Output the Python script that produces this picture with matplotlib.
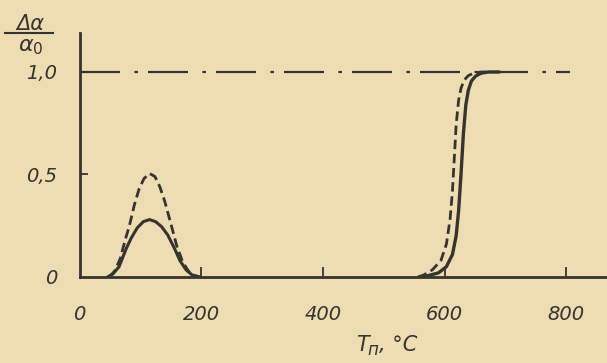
import matplotlib
matplotlib.use("Agg")
import matplotlib.pyplot as plt

# Data (T in °C, y = Δα/α0)
bump_solid_x = [46, 55, 65, 77, 85, 95, 105, 115, 125, 135, 145, 156, 165, 175, 185, 198]
bump_solid_y = [0.0, 0.015, 0.05, 0.14, 0.19, 0.24, 0.27, 0.28, 0.27, 0.245, 0.205, 0.14, 0.08, 0.035, 0.01, 0.0]

bump_dash_x = [49, 58, 67, 75, 82, 90, 98, 106, 115, 124, 132, 140, 151, 160, 170, 180, 190, 197]
bump_dash_y = [0.0, 0.03, 0.09, 0.18, 0.25, 0.35, 0.43, 0.48, 0.505, 0.49, 0.44, 0.37, 0.25, 0.15, 0.07, 0.025, 0.005, 0.0]

rise_solid_x = [565, 575, 590, 603, 613, 619, 623, 627, 631, 635, 639, 644, 651, 660, 672, 690]
rise_solid_y = [0.0, 0.008, 0.02, 0.05, 0.11, 0.2, 0.32, 0.5, 0.7, 0.84, 0.91, 0.955, 0.98, 0.994, 1.0, 1.0]

rise_dash_x = [556, 566, 580, 594, 603, 609, 613, 616, 619, 623, 627, 632, 639, 648, 660, 675]
rise_dash_y = [0.0, 0.01, 0.035, 0.08, 0.16, 0.28, 0.42, 0.58, 0.74, 0.86, 0.92, 0.96, 0.982, 0.995, 1.0, 1.0]

ref_x = [0, 807]
ref_y = [1.0, 1.0]

xticks = [0, 200, 400, 600, 800]
xtick_labels = ["0", "200", "400", "600", "800"]
yticks = [0, 0.5, 1.0]
ytick_labels = ["0", "0,5", "1,0"]

bg = "#eedcb3"
ink = "#36342e"

fig = plt.figure(figsize=(6.07, 3.63), dpi=100)
fig.patch.set_facecolor(bg)
ax = fig.add_axes([0.131, 0.237, 0.869, 0.672])
ax.set_facecolor(bg)

ax.plot(bump_solid_x, bump_solid_y, color=ink, lw=2.2, solid_capstyle="round")
ax.plot(bump_dash_x, bump_dash_y, color=ink, lw=2.0, dashes=(3.4, 1.7))
ax.plot(rise_solid_x, rise_solid_y, color=ink, lw=2.4, solid_capstyle="round")
ax.plot(rise_dash_x, rise_dash_y, color=ink, lw=2.0, dashes=(3.4, 1.7))
ax.plot(ref_x, ref_y, color=ink, lw=1.6, dashes=(18, 6.5, 1.6, 4.5))

ax.set_xlim(0, 867)
ax.set_ylim(0, 1.19)

for s in ["top", "right"]:
    ax.spines[s].set_visible(False)
for s in ["left", "bottom"]:
    ax.spines[s].set_color(ink)
    ax.spines[s].set_linewidth(2.0)

ax.set_xticks(xticks)
ax.set_xticklabels(xtick_labels)
ax.set_yticks(yticks)
ax.set_yticklabels(ytick_labels)
ax.tick_params(axis="x", direction="in", length=7, width=1.3, color=ink, pad=20,
               labelsize=14, labelcolor=ink)
ax.tick_params(axis="y", direction="in", length=6, width=1.3, color=ink, pad=16,
               labelsize=14, labelcolor=ink)
for lab in ax.get_xticklabels() + ax.get_yticklabels():
    lab.set_fontstyle("italic")
    lab.set_family("DejaVu Sans")
ax.xaxis.get_major_ticks()[0].tick1line.set_visible(False)
ax.yaxis.get_major_ticks()[0].tick1line.set_visible(False)

# Y-axis label as fraction
fig.text(0.050, 0.917, "Δα", ha="center", va="baseline", fontsize=15, style="italic", color=ink)
fig.text(0.050, 0.897, "α$_0$", ha="center", va="top", fontsize=16, style="italic", color=ink)
fig.add_artist(plt.Line2D([0.008, 0.088], [0.909, 0.909], color=ink, lw=1.5))

# X-axis label
fig.text(0.5865, 0.034, "T", ha="left", va="baseline", fontsize=15, style="italic", color=ink)
fig.text(0.606, 0.022, "п", ha="left", va="baseline", fontsize=12, style="italic", color=ink)
fig.text(0.624, 0.034, ", °C", ha="left", va="baseline", fontsize=15, style="italic", color=ink)

fig.savefig("out.png", dpi=100, facecolor=bg)
